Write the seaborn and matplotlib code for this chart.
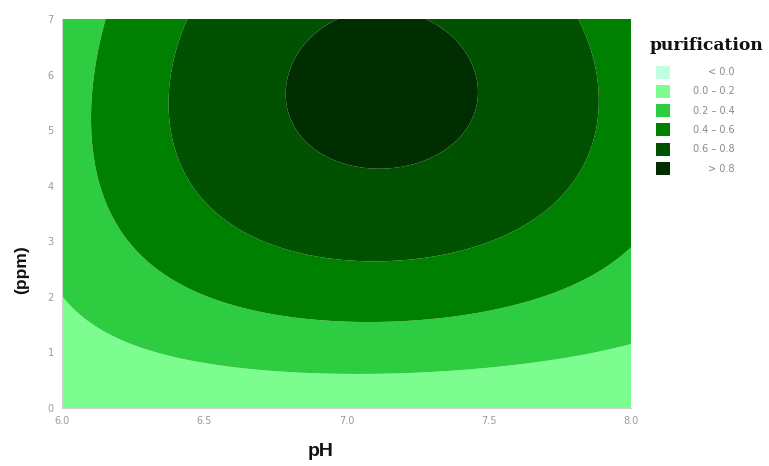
import numpy as np
import matplotlib
matplotlib.use("Agg")
import matplotlib.pyplot as plt
import matplotlib.patches as mpatches
import seaborn as sns

# ---- data: points on each contour boundary ----
lvl02_ph = [6.00, 6.09, 6.33, 6.62, 7.03, 7.27, 7.56, 7.80, 8.00]
lvl02_ppm = [2.07, 1.53, 0.99, 0.72, 0.63, 0.63, 0.81, 0.92, 1.19]

lvl04_ph = [6.17, 6.12, 6.105, 6.17, 6.15, 6.21, 6.33, 6.54, 6.79, 7.03, 7.27, 7.56, 7.80, 8.00]
lvl04_ppm = [6.98, 5.96, 5.18, 3.56, 3.74, 3.15, 2.48, 1.94, 1.67, 1.55, 1.55, 1.82, 2.18, 2.90]

lvl06_ph = [6.44, 6.37, 6.40, 6.49, 6.68, 6.85, 7.03, 7.27, 7.44, 7.63, 7.75, 7.80, 7.88, 7.80]
lvl06_ppm = [6.98, 5.36, 4.59, 3.56, 3.20, 2.84, 2.66, 2.68, 2.84, 3.26, 3.74, 4.16, 5.54, 6.98]

lvl08_ph = [6.97, 6.79, 6.78, 6.82, 7.03, 7.13, 7.33, 7.44, 7.47, 7.41, 7.27]
lvl08_ppm = [6.98, 6.26, 5.60, 4.95, 4.43, 4.37, 4.64, 5.24, 5.85, 6.50, 6.98]

# estimated values at a few anchor points (corners / centre)
anchor_ph = [6.0, 8.0, 7.1, 6.0, 8.0, 7.12, 7.12]
anchor_ppm = [0.0, 0.0, 0.0, 7.0, 7.0, 5.70, 7.0]
anchor_val = [0.04, 0.07, 0.08, 0.35, 0.53, 0.88, 0.83]

levels = [-1.0, 0.0, 0.2, 0.4, 0.6, 0.8, 2.0]
legend_labels = ["< 0.0", "0.0 \u2013 0.2", "0.2 \u2013 0.4", "0.4 \u2013 0.6", "0.6 \u2013 0.8", "> 0.8"]
colors = ["#bfffe0", "#7dfc8f", "#2ecc40", "#008000", "#005200", "#002e00"]
x_ticks = [6.0, 6.5, 7.0, 7.5, 8.0]
y_ticks = [0, 1, 2, 3, 4, 5, 6, 7]

# ---- build surface (quartic response surface fitted to read contour points) ----
ph = np.concatenate([lvl02_ph, lvl04_ph, lvl06_ph, lvl08_ph, anchor_ph])
pp = np.concatenate([lvl02_ppm, lvl04_ppm, lvl06_ppm, lvl08_ppm, anchor_ppm])
val = np.concatenate([np.full(len(lvl02_ph), 0.2), np.full(len(lvl04_ph), 0.4),
                      np.full(len(lvl06_ph), 0.6), np.full(len(lvl08_ph), 0.8), anchor_val])
wts = np.concatenate([np.full(len(ph) - len(anchor_ph), 1.0), np.full(len(anchor_ph), 0.4)])


def design(u, v):
    s = (np.asarray(u) - 7.0)
    t = (np.asarray(v) - 3.5) / 3.5
    cols = []
    for i in range(5):
        for j in range(5 - i):
            cols.append(s ** i * t ** j)
    return np.stack(cols, axis=-1)


A = design(ph, pp) * wts[:, None]
coef, *_ = np.linalg.lstsq(A, val * wts, rcond=None)

gx = np.linspace(6.0, 8.0, 300)
gy = np.linspace(0.0, 7.0, 300)
GX, GY = np.meshgrid(gx, gy)
Z = design(GX, GY) @ coef

# ---- figure ----
sns.set_style("white")
plt.rcParams["font.family"] = ["DejaVu Sans"]
fig = plt.figure(figsize=(7.69, 4.66), dpi=100)
ax = fig.add_axes([62 / 769, 1 - 408 / 466, (631 - 62) / 769, (408 - 19) / 466])
ax.contourf(GX, GY, Z, levels=levels, colors=colors, antialiased=True)
ax.set_xlim(6.0, 8.0)
ax.set_ylim(0.0, 7.0)
ax.set_xticks(x_ticks)
ax.set_xticklabels([f"{t:.1f}" for t in x_ticks])
ax.set_yticks(y_ticks)
ax.set_yticklabels([str(t) for t in y_ticks])
ax.tick_params(axis="both", labelsize=7, colors="#9a9a9a", length=3, width=0.6, pad=3)
for sp in ["top", "right"]:
    ax.spines[sp].set_visible(False)
for sp in ["left", "bottom"]:
    ax.spines[sp].set_color("#d0d0d0")
    ax.spines[sp].set_linewidth(0.8)

ax.set_xlabel("pH", fontsize=14, fontweight="bold", family="Liberation Sans", color="#111111")
ax.set_ylabel("(ppm)", fontsize=12.5, fontweight="bold", family="Liberation Sans", color="#111111")
ax.xaxis.label.set_va("center")
ax.yaxis.label.set_va("center")
ax.xaxis.set_label_coords((321 - 62) / 569, (408 - 452) / 389)
ax.yaxis.set_label_coords((22 - 62) / 569, (408 - 270) / 389)

# ---- legend ----
W, H = 769, 466
fig.text(650 / W, 1 - 45 / H, "purification", fontsize=12.3, fontweight="bold",
         family="DejaVu Serif", color="#111111", va="center", ha="left")
for i, (lab, c) in enumerate(zip(legend_labels, colors)):
    yc = 72 + 19.3 * i
    fig.add_artist(mpatches.Rectangle((656 / W, 1 - (yc + 6.5) / H), 14 / W, 13 / H,
                                      transform=fig.transFigure, facecolor=c, edgecolor="none"))
    fig.text(735 / W, 1 - yc / H, lab, fontsize=7, color="#8a8a8a", ha="right", va="center")

fig.savefig("out.png", dpi=100)
